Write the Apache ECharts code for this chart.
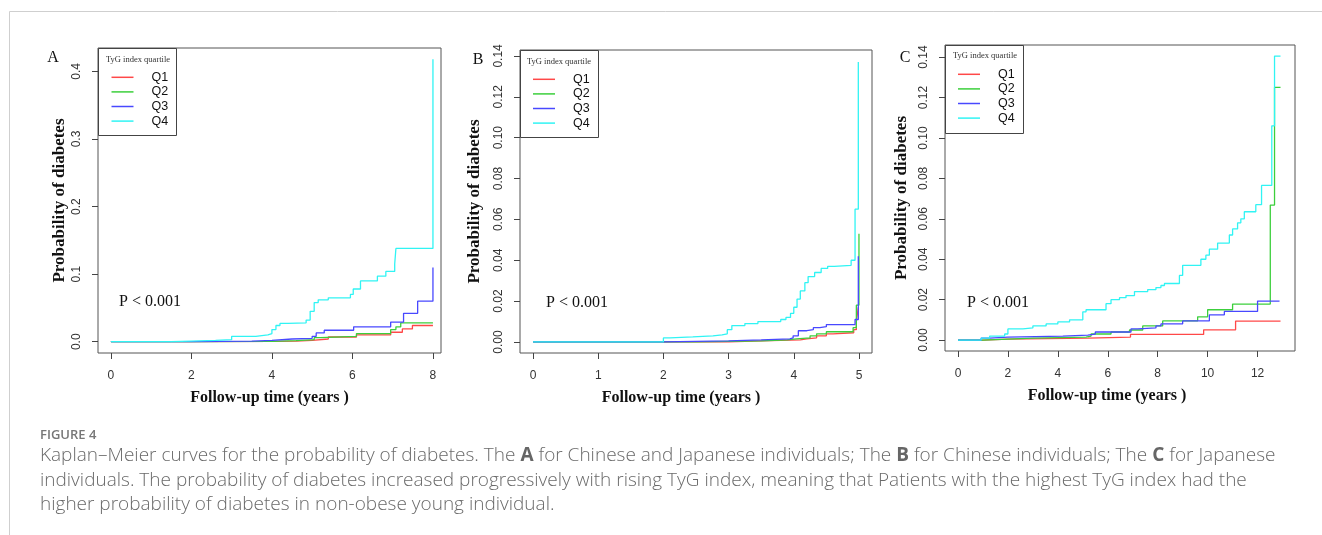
<!DOCTYPE html>
<html>
<head>
<meta charset="utf-8">
<script src="https://cdn.jsdelivr.net/npm/echarts@6/dist/echarts.min.js"></script>
<style>
  html, body { margin: 0; padding: 0; background: #fff; }
  #main { width: 1322px; height: 535px; }
</style>
</head>
<body>
<div id="main"></div>
<script>
// ---- data: [years, probability] steps ----
// panel A: Chinese + Japanese
const aQ1 = [[0,0],[2.0,0.0005],[4.0,0.001],[4.6,0.002],[5.0,0.004],[5.4,0.007],[6.1,0.010],[6.95,0.014],[7.24,0.019],[7.49,0.024],[8.0,0.024]];
const aQ2 = [[0,0],[2.0,0.0005],[4.0,0.0015],[4.6,0.003],[5.05,0.006],[5.2,0.008],[6.1,0.012],[6.95,0.018],[7.08,0.022],[7.2,0.028],[8.0,0.028]];
const aQ3 = [[0,0],[2.0,0.001],[3.5,0.002],[4.0,0.004],[4.5,0.005],[5.0,0.008],[5.1,0.013],[5.3,0.017],[6.03,0.022],[6.95,0.029],[7.27,0.042],[7.62,0.06],[8.0,0.11]];
const aQ4 = [[0,0],[1.5,0.001],[2.0,0.002],[2.6,0.003],[3.0,0.008],[3.6,0.01],[3.9,0.012],[4.0,0.018],[4.1,0.024],[4.2,0.027],[4.4,0.028],[4.85,0.032],[4.95,0.045],[5.05,0.058],[5.15,0.062],[5.4,0.065],[5.95,0.07],[6.02,0.078],[6.2,0.09],[6.62,0.097],[6.83,0.104],[7.05,0.115],[7.08,0.138],[8.0,0.418]];
// panel B: Chinese
const bQ1 = [[0,0],[3.0,0.0005],[3.5,0.001],[4.1,0.0015],[4.2,0.002],[4.35,0.003],[4.5,0.004],[4.6,0.0045],[4.92,0.006],[4.96,0.01],[4.99,0.017]];
const bQ2 = [[0,0],[2.5,0.0005],[3.5,0.001],[3.9,0.0015],[4.04,0.002],[4.25,0.003],[4.35,0.004],[4.5,0.005],[4.91,0.007],[4.96,0.018],[5.0,0.053]];
const bQ3 = [[0,0],[2.0,0.0005],[3.0,0.001],[3.5,0.0015],[3.94,0.002],[3.99,0.003],[4.07,0.0055],[4.2,0.006],[4.3,0.007],[4.4,0.0075],[4.5,0.0085],[4.94,0.011],[4.99,0.042]];
const bQ4 = [[0,0],[2.0,0.002],[2.1,0.0025],[2.45,0.003],[2.76,0.0035],[2.9,0.004],[2.98,0.006],[3.05,0.008],[3.25,0.009],[3.45,0.01],[3.8,0.011],[3.88,0.012],[3.95,0.014],[4.0,0.017],[4.05,0.021],[4.1,0.025],[4.17,0.029],[4.22,0.032],[4.32,0.034],[4.42,0.036],[4.52,0.037],[4.62,0.0375],[4.88,0.04],[4.94,0.065],[4.99,0.137]];
// panel C: Japanese
const cQ1 = [[0,0],[1.0,0.0005],[2.0,0.001],[5.2,0.0015],[6.91,0.0028],[9.84,0.0051],[11.12,0.0094],[12.92,0.0094]];
const cQ2 = [[0,0],[1.0,0.0005],[2.0,0.001],[3.0,0.0015],[5.13,0.002],[5.33,0.003],[6.13,0.004],[6.87,0.005],[7.4,0.007],[8.2,0.0095],[9.6,0.0115],[10.0,0.015],[11.0,0.0178],[12.51,0.0668],[12.68,0.125],[12.92,0.125]];
const cQ3 = [[0,0],[0.93,0.001],[1.27,0.0015],[2.0,0.002],[4.2,0.0025],[5.2,0.003],[5.5,0.004],[6.93,0.0055],[7.2,0.006],[7.93,0.007],[8.13,0.008],[9.0,0.0095],[10.07,0.0125],[10.67,0.0142],[12.0,0.0193],[12.88,0.0193]];
const cQ4 = [[0,0],[0.93,0.001],[1.27,0.002],[1.87,0.003],[2.0,0.0055],[2.6,0.006],[3.0,0.007],[3.53,0.008],[4.0,0.009],[4.47,0.01],[5.0,0.014],[5.13,0.015],[5.93,0.018],[6.13,0.02],[6.47,0.021],[6.73,0.022],[7.07,0.024],[7.6,0.025],[7.93,0.026],[8.13,0.027],[8.27,0.028],[8.87,0.032],[9.0,0.037],[9.73,0.04],[9.93,0.042],[10.07,0.045],[10.4,0.048],[10.87,0.052],[11.0,0.055],[11.2,0.058],[11.33,0.06],[11.47,0.0635],[11.93,0.067],[12.16,0.0765],[12.57,0.106],[12.68,0.1405],[12.92,0.1405]];

const quartiles = ['Q1', 'Q2', 'Q3', 'Q4'];
const aTicksX = [0, 2, 4, 6, 8];
const bTicksX = [0, 1, 2, 3, 4, 5];
const cTicksX = [0, 2, 4, 6, 8, 10, 12];
const aTicksY = [0, 0.1, 0.2, 0.3, 0.4];
const bTicksY = [0, 0.02, 0.04, 0.06, 0.08, 0.10, 0.12, 0.14];
const cTicksY = [0, 0.02, 0.04, 0.06, 0.08, 0.10, 0.12, 0.14];

const colors = ['#ff4848', '#3ccf3c', '#4848ff', '#30f4f4'];
const serif = '"Liberation Serif", "DejaVu Serif", serif';
const sans = '"Liberation Sans", Arial, sans-serif';

// panel frames (pixel boxes) and axis extents
const panels = [
  { box: [98, 48, 343, 305], x: [-0.32, 8.2], y: [-0.0167, 0.4347], tx: aTicksX, ty: aTicksY, dec: 1, data: [aQ1, aQ2, aQ3, aQ4], ygap: 30, xshift: 0, letter: 'A' },
  { box: [520, 50, 352, 303], x: [-0.2, 5.2], y: [-0.0054, 0.1429], tx: bTicksX, ty: bTicksY, dec: 2, data: [bQ1, bQ2, bQ3, bQ4], ygap: 37, xshift: 30, letter: 'B' },
  { box: [945, 45, 350, 306], x: [-0.52, 13.5], y: [-0.0054, 0.146], tx: cTicksX, ty: cTicksY, dec: 2, data: [cQ1, cQ2, cQ3, cQ4], ygap: 35, xshift: 26, letter: 'C' }
];

const grid = [], xAxis = [], yAxis = [], series = [], legend = [], graphic = [];

panels.forEach((p, i) => {
  grid.push({
    left: p.box[0], top: p.box[1], width: p.box[2], height: p.box[3],
    show: true, borderColor: '#555', borderWidth: 1, backgroundColor: 'transparent'
  });
  xAxis.push({
    type: 'value', gridIndex: i, min: p.x[0], max: p.x[1],
    name: 'Follow-up time (years )', nameLocation: 'middle', nameGap: 37, nameMoveOverlap: false,
    nameTextStyle: { fontFamily: serif, fontWeight: 'bold', fontSize: 16, color: '#111', padding: [0, p.xshift, 0, 0] },
    axisLine: { show: false, onZero: false },
    axisTick: { show: true, length: 6, customValues: p.tx, lineStyle: { color: '#444' } },
    axisLabel: { customValues: p.tx, margin: 17, fontFamily: sans, fontSize: 12, color: '#333' },
    splitLine: { show: false }
  });
  yAxis.push({
    type: 'value', gridIndex: i, min: p.y[0], max: p.y[1],
    name: 'Probability of diabetes', nameLocation: 'middle', nameGap: p.ygap, nameRotate: 90, nameMoveOverlap: false,
    nameTextStyle: { fontFamily: serif, fontWeight: 'bold', fontSize: 17, color: '#111' },
    axisLine: { show: false, onZero: false },
    axisTick: { show: true, length: 6, customValues: p.ty, lineStyle: { color: '#444' } },
    axisLabel: {
      customValues: p.ty, rotate: 90, margin: 15, fontFamily: sans, fontSize: 12, color: '#333',
      formatter: v => v.toFixed(p.dec)
    },
    splitLine: { show: false }
  });
  p.data.forEach((d, k) => {
    series.push({
      name: quartiles[k], type: 'line', step: 'end', xAxisIndex: i, yAxisIndex: i,
      data: d, showSymbol: false, symbol: 'none', animation: false,
      lineStyle: { color: colors[k], width: 1.3 }, itemStyle: { color: colors[k] },
      z: k === 3 ? 3 : 2
    });
  });
});

// legend boxes, titles, letters, p values
const legendBoxes = [[98, 48, 78, 87], [520, 50, 78, 87], [945, 45, 78, 88]];
const legendTops = [70, 72, 67];
const legendLefts = [111.5, 533, 958];
const titlePos = [[106, 60], [527, 62], [953, 56]];
const letterPos = [[53, 58], [478, 60], [905, 58]];
const pPos = [[119, 302], [546, 303], [967, 303]];

legendBoxes.forEach((b, i) => {
  legend.push({
    data: quartiles, orient: 'vertical', left: legendLefts[i], top: legendTops[i],
    padding: 0, itemGap: 0, icon: 'rect', itemWidth: 22, itemHeight: 1.5,
    selectedMode: false,
    textStyle: { fontFamily: sans, fontSize: 12.5, color: '#111', lineHeight: 14.6, padding: [0, 0, 0, 13] }
  });
  graphic.push({
    type: 'rect', shape: { x: b[0] + 0.5, y: b[1] + 0.5, width: b[2], height: b[3] },
    style: { fill: 'transparent', stroke: '#444', lineWidth: 1 }, z: 10
  });
  graphic.push({
    type: 'text', x: titlePos[i][0], y: titlePos[i][1],
    style: { text: 'TyG index quartile', font: '8.5px ' + serif, fill: '#333', textVerticalAlign: 'middle' }, z: 10
  });
  graphic.push({
    type: 'text', x: letterPos[i][0], y: letterPos[i][1],
    style: { text: panels[i].letter, font: '16px ' + serif, fill: '#111', textAlign: 'center', textVerticalAlign: 'middle' }, z: 10
  });
  graphic.push({
    type: 'text', x: pPos[i][0], y: pPos[i][1],
    style: { text: 'P < 0.001', font: '16px ' + serif, fill: '#111', textVerticalAlign: 'middle' }, z: 10
  });
});

// page frame
graphic.push({ type: 'line', shape: { x1: 9.5, y1: 11.5, x2: 1322, y2: 11.5 }, style: { stroke: '#cfcfcf', lineWidth: 1 } });
graphic.push({ type: 'line', shape: { x1: 9.5, y1: 11.5, x2: 9.5, y2: 535 }, style: { stroke: '#cfcfcf', lineWidth: 1 } });

// caption
const capFont = '"Open Sans", "Noto Sans", sans-serif';
const capSize = 19;
const capRich = { b: { fontFamily: capFont, fontSize: capSize, fontWeight: 'bold', fill: '#666' } };
graphic.push({
  type: 'text', x: 40, y: 435,
  style: { text: 'FIGURE 4', font: '600 13px ' + capFont, fill: '#777', textVerticalAlign: 'middle' }
});
const capLines = [
  'Kaplan\u2013Meier curves for the probability of diabetes. The {b|A} for Chinese and Japanese individuals; The {b|B} for Chinese individuals; The {b|C} for Japanese',
  'individuals. The probability of diabetes increased progressively with rising TyG index, meaning that Patients with the highest TyG index had the',
  'higher probability of diabetes in non-obese young individual.'
];
capLines.forEach((t, i) => {
  graphic.push({
    type: 'text', x: 40, y: 456 + i * 24.5,
    style: { text: t, font: '300 ' + capSize + 'px ' + capFont, fill: '#6a6a6a', textVerticalAlign: 'middle', rich: capRich }
  });
});

const chart = echarts.init(document.getElementById('main'));
chart.setOption({
  animation: false,
  grid: grid, xAxis: xAxis, yAxis: yAxis, series: series, legend: legend, graphic: graphic
});
</script>
</body>
</html>
